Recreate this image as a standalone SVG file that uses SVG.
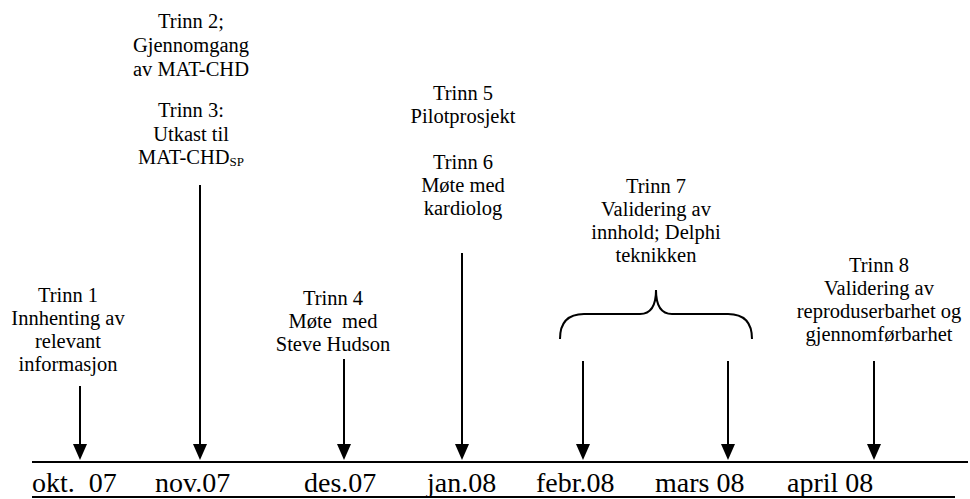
<svg xmlns="http://www.w3.org/2000/svg" width="970" height="499" viewBox="0 0 970 499">
<style>
  .lbl { font-size: 20.5px; text-anchor: middle; }
  .mon { font-size: 28px; }
  .sub { font-size: 13px; }
  .ln { stroke: #000; stroke-width: 2; fill: none; }
  .ah { fill: #000; }
</style>
<rect width="970" height="499" fill="#fff"/>
<g font-family="Liberation Serif, DejaVu Serif, serif" fill="#000">
<g id="timeline">
  <line class="ln" x1="32" y1="462" x2="968" y2="462"/>
  <line class="ln" x1="32" y1="497" x2="955" y2="497"/>
  <text class="mon" x="32" y="492" xml:space="preserve">okt.  07</text>
  <text class="mon" x="155" y="492">nov.07</text>
  <text class="mon" x="304" y="492">des.07</text>
  <text class="mon" x="427" y="492">jan.08</text>
  <text class="mon" x="536" y="492">febr.08</text>
  <text class="mon" x="655" y="492">mars 08</text>
  <text class="mon" x="787" y="492">april 08</text>
</g>
<g id="trinn1">
  <text class="lbl" x="68" y="302">Trinn 1</text>
  <text class="lbl" x="68" y="325">Innhenting av</text>
  <text class="lbl" x="68" y="348">relevant</text>
  <text class="lbl" x="68" y="371">informasjon</text>
</g>
<g id="trinn2-3">
  <text class="lbl" x="191" y="28">Trinn 2;</text>
  <text class="lbl" x="191" y="52">Gjennomgang</text>
  <text class="lbl" x="191" y="76">av MAT-CHD</text>
  <text class="lbl" x="191" y="117">Trinn 3:</text>
  <text class="lbl" x="191" y="141">Utkast til</text>
  <text class="lbl" x="191" y="164">MAT-CHD<tspan class="sub" dy="2">SP</tspan></text>
</g>
<g id="trinn4">
  <text class="lbl" x="333" y="305">Trinn 4</text>
  <text class="lbl" x="333" y="328" xml:space="preserve">Møte  med</text>
  <text class="lbl" x="333" y="351">Steve Hudson</text>
</g>
<g id="trinn5-6">
  <text class="lbl" x="463" y="100">Trinn 5</text>
  <text class="lbl" x="463" y="123">Pilotprosjekt</text>
  <text class="lbl" x="463" y="169">Trinn 6</text>
  <text class="lbl" x="463" y="192">Møte med</text>
  <text class="lbl" x="463" y="215">kardiolog</text>
</g>
<g id="trinn7">
  <text class="lbl" x="656" y="193">Trinn 7</text>
  <text class="lbl" x="656" y="216">Validering av</text>
  <text class="lbl" x="656" y="239">innhold; Delphi</text>
  <text class="lbl" x="656" y="262">teknikken</text>
  <path class="ln" d="M560,339 C560,322 568,314 584,314 L640,314 C650,314 656,306 656,290 C656,306 662,314 672,314 L728,314 C744,314 752,322 752,339"/>
</g>
<g id="trinn8">
  <text class="lbl" x="879" y="272">Trinn 8</text>
  <text class="lbl" x="879" y="295">Validering av</text>
  <text class="lbl" x="879" y="318">reproduserbarhet og</text>
  <text class="lbl" x="879" y="341">gjennomførbarhet</text>
</g>
</g>
<g id="connectors">
  <line class="ln" x1="80" y1="386" x2="80" y2="446"/>
  <polygon class="ah" points="73,444 87,444 80,460"/>
  <line class="ln" x1="200" y1="185" x2="200" y2="446"/>
  <polygon class="ah" points="193,444 207,444 200,460"/>
  <line class="ln" x1="344" y1="359" x2="344" y2="446"/>
  <polygon class="ah" points="337,444 351,444 344,460"/>
  <line class="ln" x1="462" y1="253" x2="462" y2="446"/>
  <polygon class="ah" points="455,444 469,444 462,460"/>
  <line class="ln" x1="583" y1="361" x2="583" y2="446"/>
  <polygon class="ah" points="576,444 590,444 583,460"/>
  <line class="ln" x1="728" y1="361" x2="728" y2="446"/>
  <polygon class="ah" points="721,444 735,444 728,460"/>
  <line class="ln" x1="874" y1="361" x2="874" y2="446"/>
  <polygon class="ah" points="867,444 881,444 874,460"/>
</g>
</svg>
